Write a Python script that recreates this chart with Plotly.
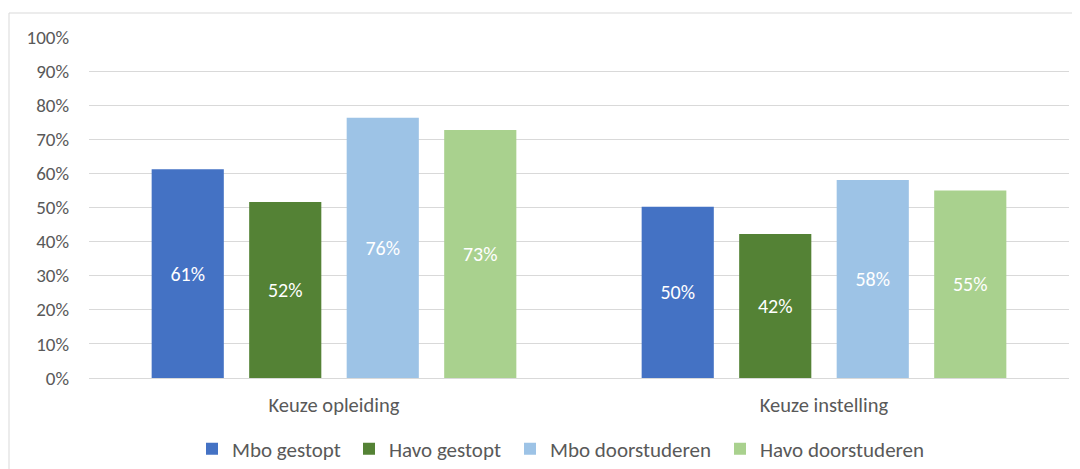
import plotly.graph_objects as go

categories = ["Keuze opleiding", "Keuze instelling"]
series_names = ["Mbo gestopt", "Havo gestopt", "Mbo doorstuderen", "Havo doorstuderen"]
mbo_gestopt = [61.2, 50.2]
havo_gestopt = [51.6, 42.2]
mbo_doorstuderen = [76.3, 58.1]
havo_doorstuderen = [72.7, 55.0]
colors = ["#4472C4", "#548235", "#9DC3E6", "#A9D18E"]
y_ticks = [0, 10, 20, 30, 40, 50, 60, 70, 80, 90, 100]

series_values = [mbo_gestopt, havo_gestopt, mbo_doorstuderen, havo_doorstuderen]

FONT = "Calibri, Carlito, Lato, sans-serif"

# page body has an 8px margin; the figure is sized to fill the rest of the window
OFF = 8
W, H = 1080 - OFF, 469 - OFF
L, R, T, B = 89 - OFF, 11, 37 - OFF, 91
pw, ph = W - L - R, H - T - B

legend_ids = ["legend", "legend2", "legend3", "legend4"]
legend_square_left = [207, 364, 525, 735]  # absolute pixel positions in the window

fig = go.Figure()
for name, vals, col, lid in zip(series_names, series_values, colors, legend_ids):
    fig.add_trace(go.Bar(
        name=name, x=categories, y=vals, marker_color=col, marker_line_width=0,
        texttemplate="%{y:.0f}%", textposition="inside",
        insidetextanchor="middle", textangle=0,
        textfont=dict(color="white", size=20, family=FONT),
        hoverinfo="skip", legend=lid,
    ))

legend_y = 1 - (449 - OFF) / H
legends = {}
for lid, sq in zip(legend_ids, legend_square_left):
    legends[lid] = dict(
        orientation="h", xref="container", yref="container",
        x=(sq - OFF - 15) / W, xanchor="left",
        y=legend_y, yanchor="middle",
        font=dict(size=21, color="#595959", family=FONT),
        bgcolor="rgba(0,0,0,0)", borderwidth=0,
    )

fig.update_layout(
    width=W, height=H,
    margin=dict(l=L, r=R, t=T, b=B, pad=0),
    paper_bgcolor="white", plot_bgcolor="white",
    barmode="group", bargap=0.204, bargroupgap=0.26,
    font=dict(family=FONT, color="#595959", size=18),
    showlegend=True,
    xaxis=dict(showgrid=False, showline=True, linecolor="#D9D9D9", linewidth=1,
               ticks="", tickfont=dict(size=20.5, color="#595959"),
               ticklabelstandoff=8, fixedrange=True, automargin=False),
    yaxis=dict(range=[0, 100], tickvals=y_ticks, ticktext=[f"{v}%" for v in y_ticks],
               showgrid=True, gridcolor="#D9D9D9", gridwidth=1, zeroline=False,
               showline=False, ticks="", ticklabelstandoff=19, automargin=False,
               tickfont=dict(size=19, color="#595959"), fixedrange=True),
    shapes=[dict(type="rect", xref="paper", yref="paper",
                 x0=(9 - OFF - L) / pw, x1=(W + 20 - L) / pw,
                 y0=(T + ph - (H + 20)) / ph, y1=1 + (T - (13 - OFF)) / ph,
                 line=dict(color="#D9D9D9", width=1), fillcolor="rgba(0,0,0,0)",
                 layer="below")],
    **legends,
)

fig.write_html("out.html")
